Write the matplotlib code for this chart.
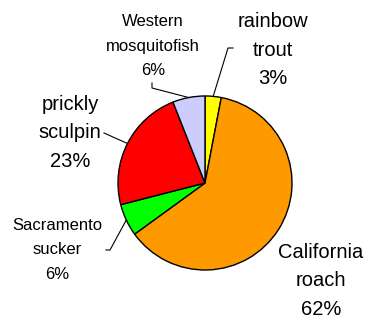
import numpy as np
import matplotlib
matplotlib.use("Agg")
import matplotlib.pyplot as plt

species = ["rainbow\ntrout", "California\nroach", "Sacramento\nsucker", "prickly\nsculpin", "Western\nmosquitofish"]
percents = [3, 62, 6, 23, 6]
colors = ["#FFFF00", "#FF9900", "#00FF00", "#FF0000", "#CCCCFF"]

W, H = 369, 323
fig = plt.figure(figsize=(W / 100, H / 100), dpi=100)
ax = fig.add_axes([0, 0, 1, 1])

cx, cy, r = 205, H - 183, 87
wedges, _ = ax.pie(percents, colors=colors, startangle=90, counterclock=False,
                   center=(cx, cy), radius=r,
                   wedgeprops=dict(edgecolor="black", linewidth=1.0))
ax.set_xlim(0, W)
ax.set_ylim(0, H)
ax.set_aspect("equal")
ax.axis("off")

font = "Liberation Sans"
# label text positions (pixel coords from top), font size, leader polyline (label-side points)
label_cfg = [
    dict(pos=(273, 50), size=14.5, lead=[(233, 48), (228, 48)]),
    dict(pos=(321, 281), size=14.5, lead=None),
    dict(pos=(57, 250), size=12.0, lead=[(106, 250), (110, 250)]),
    dict(pos=(70, 133), size=14.5, lead=[(104, 133)]),
    dict(pos=(153, 46), size=12.0, lead=[(152, 83), (152, 88)]),
]

for w, name, p, cfg in zip(wedges, species, percents, label_cfg):
    x, py = cfg["pos"]
    big = cfg["size"] > 13
    ax.text(x, H - py, f"{name}\n{p}%", ha="center", va="center",
            fontsize=cfg["size"], family=font, linespacing=1.62 if big else 1.8,
            color="black")
    if cfg["lead"]:
        mid = np.deg2rad((w.theta1 + w.theta2) / 2)
        ex, ey = cx + r * np.cos(mid), cy + r * np.sin(mid)
        xs = [q[0] for q in cfg["lead"]] + [ex]
        ys = [H - q[1] for q in cfg["lead"]] + [ey]
        ax.plot(xs, ys, color="black", linewidth=0.8)

fig.savefig("out.png", dpi=100)
